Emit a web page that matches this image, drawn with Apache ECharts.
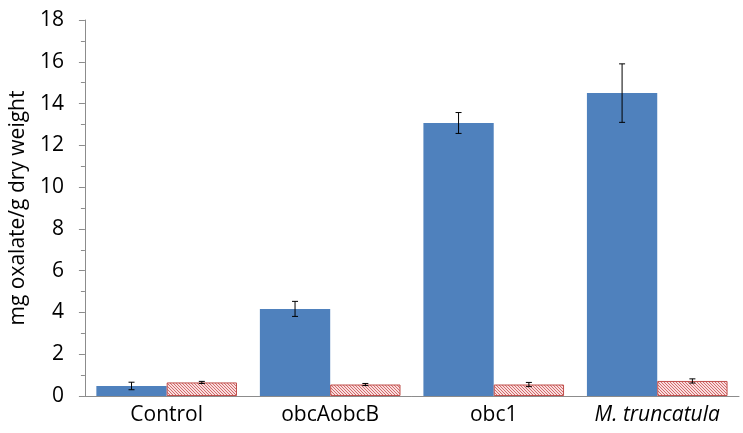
<!DOCTYPE html>
<html>
<head>
<meta charset="utf-8">
<script src="https://cdn.jsdelivr.net/npm/echarts@6/dist/echarts.min.js"></script>
<style>
  html, body { margin: 0; padding: 0; background: #fff; }
  #chart { width: 743px; height: 433px; }
</style>
</head>
<body>
<div id="chart"></div>
<script>
// data
var categories = ["Control", "obcAobcB", "obc1", "M. truncatula"];
var blueValues = [0.48, 4.17, 13.07, 14.5];
var blueErrors = [0.18, 0.36, 0.5, 1.4];
var pinkValues = [0.65, 0.55, 0.55, 0.72];
var pinkErrors = [0.05, 0.05, 0.1, 0.1];

// hatch pattern for second series
function makeHatch() {
  var c = document.createElement("canvas");
  c.width = 3;
  c.height = 3;
  var ctx = c.getContext("2d");
  ctx.fillStyle = "#f8dede";
  ctx.fillRect(0, 0, 3, 3);
  ctx.fillStyle = "#d4696b";
  // one pixel per row, shifted -> diagonal lines
  ctx.fillRect(0, 0, 1, 1);
  ctx.fillRect(1, 1, 1, 1);
  ctx.fillRect(2, 2, 1, 1);
  return c;
}

var catGap = 0.14; // barCategoryGap fraction

function errorSeries(values, errors, side) {
  var data = values.map(function (v, i) {
    return [i, v - errors[i], v + errors[i]];
  });
  return {
    type: "custom",
    z: 10,
    data: data,
    renderItem: function (params, api) {
      var band = api.size([1, 0])[0];
      var offset = side * band * (1 - catGap) / 4;
      var lo = api.coord([api.value(0), api.value(1)]);
      var hi = api.coord([api.value(0), api.value(2)]);
      var x = lo[0] + offset;
      var cap = 3;
      var style = { stroke: "#000", lineWidth: 1 };
      return {
        type: "group",
        children: [
          { type: "line", shape: { x1: x, y1: lo[1], x2: x, y2: hi[1] }, style: style },
          { type: "line", shape: { x1: x - cap, y1: lo[1], x2: x + cap, y2: lo[1] }, style: style },
          { type: "line", shape: { x1: x - cap, y1: hi[1], x2: x + cap, y2: hi[1] }, style: style }
        ]
      };
    }
  };
}

var myChart = echarts.init(document.getElementById("chart"));
myChart.setOption({
  animation: false,
  textStyle: { fontFamily: "Open Sans" },
  grid: { left: 84, right: 4, top: 20, bottom: 37 },
  xAxis: {
    type: "category",
    data: categories,
    axisLine: { lineStyle: { color: "#8c8c8c" } },
    axisTick: { alignWithLabel: false, length: 6, lineStyle: { color: "#8c8c8c" } },
    axisLabel: {
      interval: 0,
      fontSize: 21,
      color: "#000",
      margin: 9,
      formatter: function (v) {
        return v === "M. truncatula" ? "{it|" + v + "}" : v;
      },
      rich: { it: { fontStyle: "italic", fontSize: 21, color: "#000" } }
    }
  },
  yAxis: {
    type: "value",
    min: 0,
    max: 18,
    interval: 2,
    name: "mg oxalate/g dry weight",
    nameLocation: "middle",
    nameGap: 51,
    nameTextStyle: { fontSize: 21, color: "#000" },
    axisLine: { show: true, lineStyle: { color: "#8c8c8c" } },
    axisTick: { show: true, length: 6, lineStyle: { color: "#8c8c8c" } },
    minorTick: { show: true, splitNumber: 2, length: 4, lineStyle: { color: "#8c8c8c" } },
    splitLine: { show: false },
    axisLabel: { fontSize: 21, color: "#000", margin: 21 }
  },
  series: [
    {
      type: "bar",
      data: blueValues,
      barGap: "0%",
      barCategoryGap: catGap * 100 + "%",
      itemStyle: { color: "#4f81bd" }
    },
    {
      type: "bar",
      data: pinkValues,
      itemStyle: {
        color: { image: makeHatch(), repeat: "repeat" },
        borderColor: "#c0504d",
        borderWidth: 1
      }
    },
    errorSeries(blueValues, blueErrors, -1),
    errorSeries(pinkValues, pinkErrors, 1)
  ]
});

window.addEventListener("resize", function () {
  myChart.resize();
});
</script>
</body>
</html>
